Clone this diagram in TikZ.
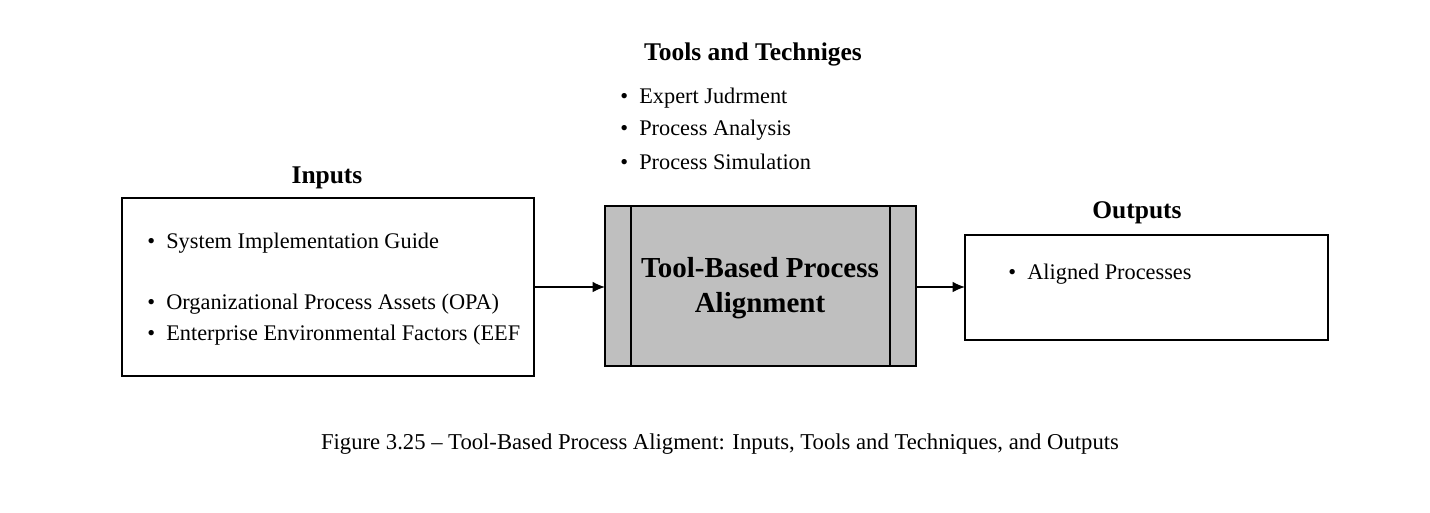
\documentclass[tikz,border=0pt]{standalone}
\usepackage{fontspec}
\setmainfont{Liberation Serif}
\usetikzlibrary{positioning,arrows.meta}
\begin{document}
\begin{tikzpicture}[x=0.02cm,y=-0.02cm,
   box/.style={draw,thick,inner sep=0pt},
   head/.style={font=\fontsize{14.5}{16}\selectfont\bfseries},
   item/.style={font=\fontsize{12.7}{14}\selectfont,anchor=west,inner sep=0pt},
   link/.style={-{Latex[length=7pt,width=6pt]},thick}]
   \useasboundingbox (0,0) rectangle (1430,512);
   % boxes
   \draw[box] (122,198) rectangle (534,376);
   \draw[box,fill=black!25] (605,206) rectangle (916,366);
   \draw[thick] (631,206) -- (631,366);
   \draw[thick] (890,206) -- (890,366);
   \draw[box] (965,235) rectangle (1328,340);
   \node[font=\fontsize{16.5}{19.5}\selectfont\bfseries,align=center] (proc) at (760,288)
      {Tool-Based Process\\Alignment};
   \coordinate (inR) at (534,287);  \coordinate (pL) at (605,287);
   \coordinate (pR) at (916,287);   \coordinate (outL) at (965,287);
   \draw[link] (inR) -- (pL);
   \draw[link] (pR) -- (outL);
  %
   \node[head] (inputs) at (327,178) {Inputs};
   \node[item] (in1) at (147,243) {\textbullet\ \ System Implementation Guide};
   \node[item] (in2) at (147,304) {\textbullet\ \ Organizational Process Assets (OPA)};
   \node[item] (in3) at (147,335) {\textbullet\ \ Enterprise Environmental Factors (EEF};
  %
   \node[head] (tools) at (753,54) {Tools and Techniges};
   \node[item] (t1) at (620,98) {\textbullet\ \ Expert Judrment};
   \node[item] (t2) at (620,130) {\textbullet\ \ Process Analysis};
   \node[item] (t3) at (620,162) {\textbullet\ \ Process Simulation};
  %
   \node[head] (outputs) at (1137,213) {Outputs};
   \node[item] (o1) at (1008,274) {\textbullet\ \ Aligned Processes};
  %
   \node[font=\fontsize{12.9}{14}\selectfont] (cap) at (720,444)
      {Figure 3.25 -- Tool-Based Process Aligment: Inputs, Tools and Techniques, and Outputs};
\end{tikzpicture}
\end{document}
